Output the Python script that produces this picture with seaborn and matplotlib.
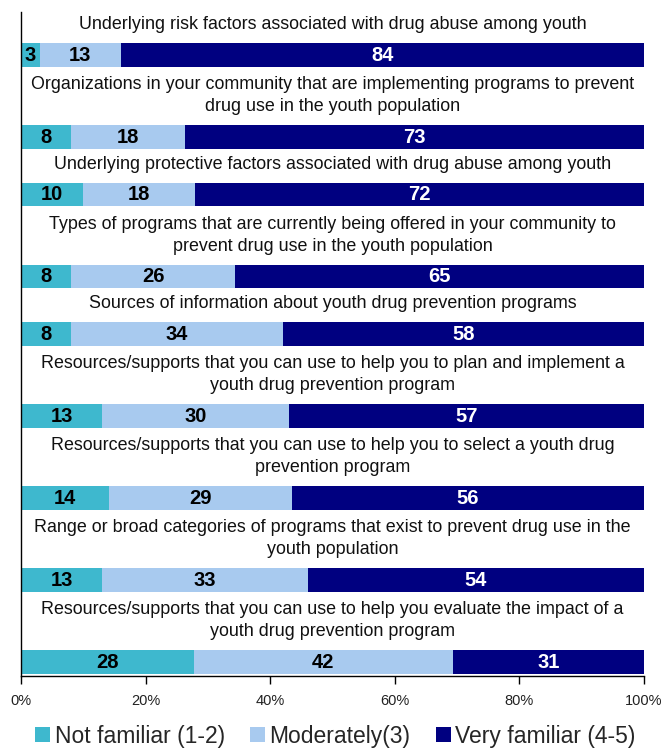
import numpy as np
import pandas as pd
import matplotlib
matplotlib.use("Agg")
import matplotlib.pyplot as plt
from matplotlib.patches import Patch
import seaborn as sns

# ---- data -------------------------------------------------------------
items = [
    "Underlying risk factors associated with drug abuse among youth",
    "Organizations in your community that are implementing programs to prevent\ndrug use in the youth population",
    "Underlying protective factors associated with drug abuse among youth",
    "Types of programs that are currently being offered in your community to\nprevent drug use in the youth population",
    "Sources of information about youth drug prevention programs",
    "Resources/supports that you can use to help you to plan and implement a\nyouth drug prevention program",
    "Resources/supports that you can use to help you to select a youth drug\nprevention program",
    "Range or broad categories of programs that exist to prevent drug use in the\nyouth population",
    "Resources/supports that you can use to help you evaluate the impact of a\nyouth drug prevention program",
]
not_familiar = [3, 8, 10, 8, 8, 13, 14, 13, 28]
moderately = [13, 18, 18, 26, 34, 30, 29, 33, 42]
very_familiar = [84, 73, 72, 65, 58, 57, 56, 54, 31]
series_names = ["Not familiar (1-2)", "Moderately(3)", "Very familiar (4-5)"]
tick_values = [0, 20, 40, 60, 80, 100]

# ---- style --------------------------------------------------------------
colors = ["#3EB8CE", "#A8CAEF", "#000080"]
sns.set_theme(style="white")
plt.rcParams["font.family"] = ["Liberation Sans", "DejaVu Sans"]

W, H = 664, 750
fig = plt.figure(figsize=(W / 100, H / 100), dpi=100)
ax_left, ax_right, ax_top, ax_bottom = 21, 644, 12, 676
ax = fig.add_axes([ax_left / W, (H - ax_bottom) / H,
                   (ax_right - ax_left) / W, (ax_bottom - ax_top) / H])

# vertical layout (in pixel-like units): room above each bar for its caption
n_lines = [lbl.count("\n") + 1 for lbl in items]
bar_h = 23.5
centers = []
y = 55.0
for i, n in enumerate(n_lines):
    if i > 0:
        y += 33.0 + 24.5 * n
    centers.append(y)

df = pd.DataFrame({
    "item": items,
    "pos": centers,
    "nf": not_familiar,
    "mod": moderately,
    "vf": very_familiar,
})
total = df[["nf", "mod", "vf"]].sum(axis=1)
# shares scaled to a full 100% bar
for c in ["nf", "mod", "vf"]:
    df[c + "_pct"] = df[c] / total * 100
df["cum1"] = df["nf_pct"]
df["cum2"] = df["cum1"] + df["mod_pct"]
df["cum3"] = df["cum2"] + df["vf_pct"]

min_gap = np.min(np.diff(sorted(set(centers))))
width = bar_h / min_gap

# stacked bars drawn back to front
for col, colr in zip(["cum3", "cum2", "cum1"], colors[::-1]):
    sns.barplot(data=df, x=col, y="pos", orient="y", native_scale=True,
                color=colr, saturation=1, width=width, errorbar=None,
                linewidth=0, ax=ax)

ax.set_ylim(ax_bottom, ax_top)
ax.set_xlim(0, 100)

# value labels in each segment
for _, r in df.iterrows():
    segs = [(0, r["cum1"], r["nf"], "black"),
            (r["cum1"], r["cum2"], r["mod"], "black"),
            (r["cum2"], r["cum3"], r["vf"], "white")]
    for lo, hi, v, tc in segs:
        ax.text((lo + hi) / 2, r["pos"] + 0.5, f"{v}", ha="center", va="center",
                fontsize=14.5, fontweight="bold", color=tc)
    # caption above the bar
    ax.text(50, r["pos"] - bar_h / 2 - 10, r["item"], ha="center", va="bottom",
            fontsize=12.85, color="#111111", linespacing=1.4)

# axes cosmetics
ax.set_xticks(tick_values)
ax.set_xticklabels([f"{v}%" for v in tick_values])
ax.set_yticks([])
ax.set_xlabel("")
ax.set_ylabel("")
ax.tick_params(axis="x", direction="out", length=6, width=1, color="black",
               labelsize=10.5, labelcolor="#222222", pad=7, bottom=True)
for s in ["top", "right"]:
    ax.spines[s].set_visible(False)
for s in ["left", "bottom"]:
    ax.spines[s].set_color("black")
    ax.spines[s].set_linewidth(1)

handles = [Patch(facecolor=c, edgecolor="none", label=n)
           for c, n in zip(colors, series_names)]
fig.legend(handles=handles, loc="center", bbox_to_anchor=(0.505, 14 / H),
           ncol=3, frameon=False, fontsize=16.5, handlelength=0.65,
           handleheight=0.65, handletextpad=0.2, columnspacing=1.1)

fig.savefig("out.png", dpi=100)
